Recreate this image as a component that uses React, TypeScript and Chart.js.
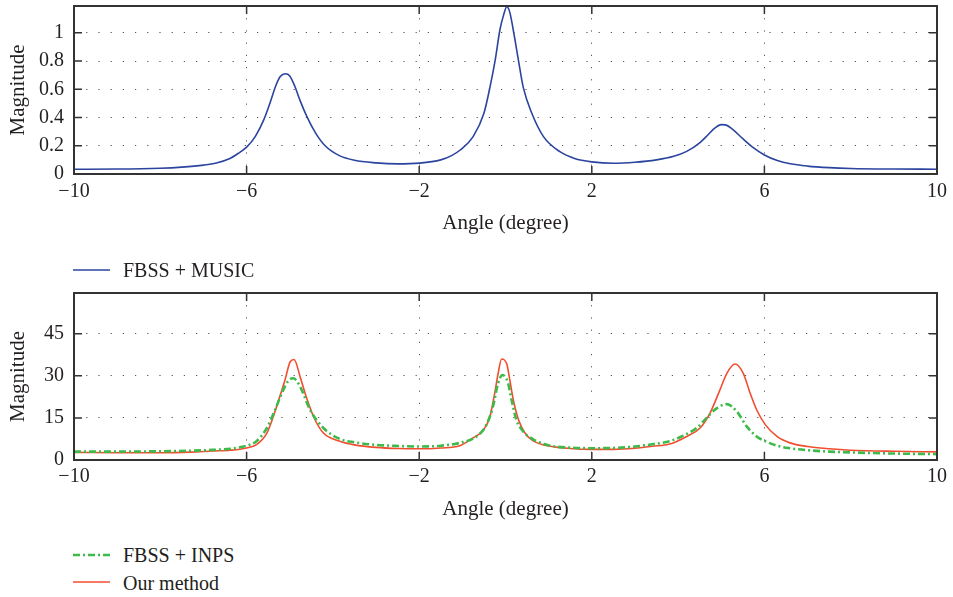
import React, { useEffect, useRef } from "react";
import { Chart, registerables } from "chart.js";

Chart.register(...registerables);

// ---------- Data ----------
const X_MIN = -10;
const X_MAX = 10;
const X_STEP = 4;

const TOP_Y_MAX = 1.19;
const TOP_Y_STEP = 0.2;
const BOTTOM_Y_MAX = 59.5;
const BOTTOM_Y_STEP = 15;

const MUSIC_X = [
  -10, -9, -8, -7.5, -7, -6.7, -6.4, -6.2, -6.0, -5.8, -5.6, -5.45, -5.33, -5.22, -5.1, -5.0,
  -4.88, -4.76, -4.6, -4.4, -4.18, -3.85, -3.5, -3.0, -2.5, -2.0, -1.5, -1.25, -1.05, -0.75,
  -0.5, -0.36, -0.24, -0.13, -0.05, 0.03, 0.1, 0.18, 0.3, 0.41, 0.61, 0.88, 1.26, 1.6, 2.0,
  2.5, 3.0, 3.5, 3.9, 4.2, 4.5, 4.7, 4.85, 5.0, 5.1, 5.25, 5.5, 5.75, 6.0, 6.3, 6.6, 7.0, 7.5,
  8.0, 9.0, 10,
];
const MUSIC_Y = [
  0.034, 0.035, 0.041, 0.049, 0.063, 0.078, 0.108, 0.145, 0.19, 0.265, 0.385, 0.51, 0.62, 0.69, 0.71, 0.695,
  0.62, 0.52, 0.405, 0.29, 0.2, 0.13, 0.097, 0.079, 0.072, 0.077, 0.1, 0.13, 0.17, 0.265,
  0.43, 0.615, 0.805, 1.02, 1.12, 1.185, 1.145, 1.02, 0.805, 0.615, 0.43, 0.265, 0.158, 0.11, 0.086,
  0.076, 0.083, 0.1, 0.125, 0.16, 0.22, 0.28, 0.325, 0.35, 0.348, 0.32, 0.25, 0.185, 0.135, 0.095, 0.072, 0.056, 0.045,
  0.039, 0.035, 0.034,
];

const INPS_X = [
  -10, -9, -8, -7.3, -6.8, -6.38, -6.0, -5.77, -5.53, -5.34, -5.15, -5.03, -4.92, -4.76, -4.53,
  -4.22, -3.84, -3.5, -3.0, -2.5, -2.0, -1.5, -1.06, -0.67, -0.44, -0.29, -0.17, -0.07, 0.06,
  0.14, 0.25, 0.41, 0.65, 1.04, 1.5, 2.0, 2.5, 3.0, 3.4, 3.81, 4.12, 4.43, 4.66, 4.9, 5.13,
  5.36, 5.59, 5.82, 6.02, 6.29, 6.59, 7.0, 7.5, 8.0, 9.0, 10,
];
const INPS_Y = [
  3.0, 3.0, 3.1, 3.3, 3.6, 4.0, 5.1, 6.7, 11.4, 17.9, 25.0, 28.3, 29.1, 26.2, 17.9,
  11.4, 7.5, 6.3, 5.4, 5.0, 4.8, 5.1, 6.1, 8.4, 12.6, 19.1, 27.4, 30.3, 27.4,
  21.5, 14.4, 10.2, 7.3, 5.1, 4.4, 4.2, 4.3, 4.8, 5.6, 6.7, 8.7, 11.4, 15.0, 18.5, 19.9,
  17.3, 12.0, 8.4, 6.7, 5.1, 4.2, 3.5, 3.0, 2.7, 2.3, 2.1,
];

const OURS_X = [
  -10, -9, -8, -7.3, -6.8, -6.38, -6.0, -5.77, -5.53, -5.38, -5.23, -5.11, -4.99, -4.9, -4.76,
  -4.62, -4.45, -4.22, -3.84, -3.5, -3.0, -2.5, -2.0, -1.5, -1.06, -0.75, -0.51, -0.36, -0.25,
  -0.17, -0.09, 0.03, 0.1, 0.18, 0.3, 0.45, 0.65, 1.04, 1.5, 2.0, 2.5, 3.0, 3.4, 3.81, 4.2,
  4.51, 4.74, 4.97, 5.13, 5.32, 5.51, 5.67, 5.82, 6.02, 6.29, 6.59, 7.0, 7.5, 8.0, 9.0, 10,
];
const OURS_Y = [
  2.7, 2.6, 2.6, 2.8, 3.2, 3.5, 4.3, 5.5, 9.6, 15.5, 22.6, 28.5, 35.0, 35.8, 29.7,
  22.6, 15.5, 9.6, 6.7, 5.4, 4.5, 4.1, 4.0, 4.3, 5.1, 7.9, 10.7, 15.5, 23.8,
  30.9, 36.0, 34.2, 28.5, 21.5, 14.4, 9.6, 6.7, 4.9, 4.1, 3.8, 3.8, 4.2, 4.9, 5.7, 8.4,
  11.4, 16.7, 25.0, 30.9, 34.2, 30.9, 23.8, 17.9, 12.6, 8.4, 6.1, 4.8, 4.0, 3.5, 3.1, 2.9,
];

const LABEL_MUSIC = "FBSS + MUSIC";
const LABEL_INPS = "FBSS + INPS";
const LABEL_OURS = "Our method";
const X_TITLE = "Angle (degree)";
const Y_TITLE = "Magnitude";

// ---------- Styles ----------
const FONT_FAMILY = "'Liberation Serif', 'DejaVu Serif', serif";
const TEXT_COLOR = "#231f20";
const BLUE = "#2b449e";
const RED = "#f04e30";
const GREEN = "#3dba4a";
const GREEN_DASH = [7, 3, 2, 3];
const W = 953;

const pts = (xs: number[], ys: number[]) => xs.map((x, i) => ({ x, y: ys[i] }));

const fmtX = (v: number | string) => {
  const n = Number(v);
  return n < 0 ? "\u2212" + Math.abs(n) : String(n);
};

const frameTicks = {
  id: "frameTicks",
  afterDatasetsDraw(chart: any) {
    const { ctx, chartArea: a, scales } = chart;
    const xs = scales.x;
    const ys = scales.y;
    const L = 8;
    ctx.save();
    ctx.setLineDash([]);
    ctx.strokeStyle = "#333";
    ctx.lineWidth = 1.5;
    ctx.beginPath();
    xs.ticks.forEach((t: any) => {
      const p = xs.getPixelForValue(t.value);
      if (p <= a.left + 1 || p >= a.right - 1) return;
      ctx.moveTo(p, a.bottom);
      ctx.lineTo(p, a.bottom - L);
      ctx.moveTo(p, a.top);
      ctx.lineTo(p, a.top + L);
    });
    ys.ticks.forEach((t: any) => {
      const p = ys.getPixelForValue(t.value);
      if (p <= a.top + 1 || p >= a.bottom - 1) return;
      ctx.moveTo(a.left, p);
      ctx.lineTo(a.left + L, p);
      ctx.moveTo(a.right, p);
      ctx.lineTo(a.right - L, p);
    });
    ctx.stroke();
    ctx.lineWidth = 2;
    ctx.strokeRect(a.left, a.top, a.right - a.left, a.bottom - a.top);
    ctx.restore();
  },
};

function makeOptions(opts: {
  padTop: number;
  xHeight: number;
  xTickPad: number;
  xTitlePadBottom: number;
  yMax: number;
  yStep: number;
  yFmt: (v: number) => string;
}) {
  const font = { family: FONT_FAMILY, size: 20, lineHeight: 1.2 };
  const titleFont = { family: FONT_FAMILY, size: 21, lineHeight: 1.2 };
  return {
    responsive: false,
    animation: false as const,
    layout: { padding: { top: opts.padTop, right: 16, bottom: 0, left: 0 } },
    plugins: { legend: { display: false }, tooltip: { enabled: false } },
    elements: { point: { radius: 0 } },
    scales: {
      x: {
        type: "linear" as const,
        min: X_MIN,
        max: X_MAX,
        ticks: {
          stepSize: X_STEP,
          padding: opts.xTickPad,
          font,
          color: TEXT_COLOR,
          maxRotation: 0,
          autoSkip: false,
          callback: (v: any) => fmtX(v),
        },
        grid: { color: "#555", lineWidth: 1, drawTicks: false },
        border: { display: false, dash: [1.2, 11] },
        title: {
          display: true,
          text: X_TITLE,
          font: titleFont,
          color: TEXT_COLOR,
          padding: { top: 0, bottom: opts.xTitlePadBottom },
        },
        afterFit: (s: any) => {
          s.height = opts.xHeight;
        },
      },
      y: {
        type: "linear" as const,
        min: 0,
        max: opts.yMax,
        ticks: {
          stepSize: opts.yStep,
          includeBounds: false,
          padding: 10,
          font,
          color: TEXT_COLOR,
          callback: (v: any) => opts.yFmt(Number(v)),
        },
        grid: { color: "#555", lineWidth: 1, drawTicks: false },
        border: { display: false, dash: [1.2, 11] },
        title: {
          display: true,
          text: Y_TITLE,
          font: titleFont,
          color: TEXT_COLOR,
          padding: { top: 6, bottom: 0 },
        },
        afterFit: (s: any) => {
          s.width = 74;
          s.paddingTop = 0;
          s.paddingBottom = 0;
        },
      },
    },
  };
}

function TopChart() {
  const ref = useRef<HTMLCanvasElement | null>(null);
  useEffect(() => {
    if (!ref.current) return;
    const chart = new Chart(ref.current, {
      type: "line",
      data: {
        datasets: [
          {
            label: LABEL_MUSIC,
            data: pts(MUSIC_X, MUSIC_Y),
            borderColor: BLUE,
            borderWidth: 1.6,
            cubicInterpolationMode: "monotone",
            fill: false,
          },
        ],
      },
      options: makeOptions({
        padTop: 6,
        xHeight: 66,
        xTickPad: 6,
        xTitlePadBottom: 4,
        yMax: TOP_Y_MAX,
        yStep: TOP_Y_STEP,
        yFmt: (v) => String(Math.round(v * 10) / 10),
      }) as any,
      plugins: [frameTicks],
    });
    return () => chart.destroy();
  }, []);
  return <canvas ref={ref} width={W} height={240} style={{ position: "absolute", left: 0, top: 0 }} />;
}

function BottomChart() {
  const ref = useRef<HTMLCanvasElement | null>(null);
  useEffect(() => {
    if (!ref.current) return;
    const chart = new Chart(ref.current, {
      type: "line",
      data: {
        datasets: [
          {
            label: LABEL_INPS,
            data: pts(INPS_X, INPS_Y),
            borderColor: GREEN,
            borderWidth: 2.6,
            borderDash: GREEN_DASH,
            cubicInterpolationMode: "monotone",
            fill: false,
          },
          {
            label: LABEL_OURS,
            data: pts(OURS_X, OURS_Y),
            borderColor: RED,
            borderWidth: 1.6,
            cubicInterpolationMode: "monotone",
            fill: false,
          },
        ],
      },
      options: makeOptions({
        padTop: 13,
        xHeight: 70,
        xTickPad: 5,
        xTitlePadBottom: 8,
        yMax: BOTTOM_Y_MAX,
        yStep: BOTTOM_Y_STEP,
        yFmt: (v) => String(Math.round(v)),
      }) as any,
      plugins: [frameTicks],
    });
    return () => chart.destroy();
  }, []);
  return <canvas ref={ref} width={W} height={250} style={{ position: "absolute", left: 0, top: 280 }} />;
}

function LegendItem(props: { top: number; lineY: number; color: string; dash?: number[]; width: number; text: string }) {
  return (
    <>
      <svg
        width={40}
        height={8}
        style={{ position: "absolute", left: 72, top: props.lineY - 4 }}
      >
        <line
          x1={1}
          x2={38}
          y1={4}
          y2={4}
          stroke={props.color}
          strokeWidth={props.width}
          strokeDasharray={props.dash ? props.dash.join(" ") : undefined}
        />
      </svg>
      <div
        style={{
          position: "absolute",
          left: 123,
          top: props.top,
          fontFamily: FONT_FAMILY,
          fontSize: 20,
          lineHeight: "24px",
          color: TEXT_COLOR,
          whiteSpace: "nowrap",
        }}
      >
        {props.text}
      </div>
    </>
  );
}

export default function App() {
  return (
    <div
      style={{
        position: "fixed",
        left: 0,
        top: 0,
        width: W,
        height: 597,
        background: "#ffffff",
        overflow: "hidden",
      }}
    >
      <TopChart />
      <BottomChart />
      <LegendItem top={258} lineY={270} color={BLUE} width={1.6} text={LABEL_MUSIC} />
      <LegendItem top={543} lineY={555} color={GREEN} width={2.4} dash={GREEN_DASH} text={LABEL_INPS} />
      <LegendItem top={571} lineY={582} color={RED} width={1.6} text={LABEL_OURS} />
    </div>
  );
}
